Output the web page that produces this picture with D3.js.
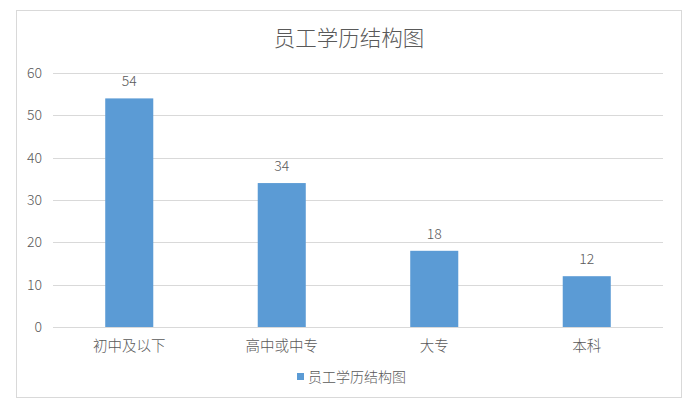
<!DOCTYPE html>
<html>
<head>
<meta charset="utf-8">
<script src="https://cdn.jsdelivr.net/npm/d3@7"></script>
<style>
  body { margin: 0; background: #fff; }
  text { font-family: "Noto Sans CJK SC", "Noto Sans", sans-serif; fill: #595959; font-weight: 300; }
</style>
</head>
<body>
<div id="chart"></div>
<script>
var title = '员工学历结构图';
var seriesName = '员工学历结构图';
var categories = ['初中及以下', '高中或中专', '大专', '本科'];
var values = [54, 34, 18, 12];
var yTicks = [0, 10, 20, 30, 40, 50, 60];

var width = 698, height = 408;
var margin = { left: 53, right: 35, top: 73, bottom: 81 };

var svg = d3.select('#chart')
    .append('svg')
    .attr('width', width)
    .attr('height', height);

// outer frame
svg.append('rect')
    .attr('x', 16.5)
    .attr('y', 10.5)
    .attr('width', 665)
    .attr('height', 387)
    .style('fill', '#fff')
    .style('stroke', '#d9d9d9');

var x = d3.scaleBand()
    .domain(categories)
    .range([margin.left, width - margin.right])
    .paddingInner(0.685)
    .paddingOuter(0.3425);

var y = d3.scaleLinear()
    .domain([0, 60])
    .range([height - margin.bottom, margin.top]);

// gridlines
svg.append('g')
    .selectAll('line')
    .data(yTicks)
    .enter()
    .append('line')
    .attr('x1', margin.left)
    .attr('x2', width - margin.right)
    .attr('y1', (d) => Math.round(y(d)) + 0.5)
    .attr('y2', (d) => Math.round(y(d)) + 0.5)
    .style('stroke', '#d9d9d9')
    .style('stroke-width', 1);

// y labels
svg.append('g')
    .selectAll('text')
    .data(yTicks)
    .enter()
    .append('text')
    .text((d) => d)
    .attr('x', 42)
    .attr('y', (d) => y(d))
    .attr('dy', '0.35em')
    .attr('text-anchor', 'end')
    .style('font-size', '14px');

// bars
svg.append('g')
    .selectAll('rect')
    .data(values)
    .enter()
    .append('rect')
    .attr('x', (d, i) => x(categories[i]))
    .attr('y', (d) => y(d))
    .attr('width', x.bandwidth())
    .attr('height', (d) => y(0) - y(d))
    .style('fill', '#5b9bd5');

// data labels
svg.append('g')
    .selectAll('text')
    .data(values)
    .enter()
    .append('text')
    .text((d) => d)
    .attr('x', (d, i) => x(categories[i]) + x.bandwidth() / 2)
    .attr('y', (d) => y(d) - 12)
    .attr('text-anchor', 'middle')
    .style('font-size', '14px');

// category labels
svg.append('g')
    .selectAll('text')
    .data(categories)
    .enter()
    .append('text')
    .text((d) => d)
    .attr('x', (d) => x(d) + x.bandwidth() / 2)
    .attr('y', y(0) + 24)
    .attr('text-anchor', 'middle')
    .style('font-size', '14.5px');

// title
svg.append('text')
    .text(title)
    .attr('x', 349)
    .attr('y', 46)
    .attr('text-anchor', 'middle')
    .style('font-size', '21.5px');

// legend
var legend = svg.append('g');
legend.append('rect')
    .attr('x', 297)
    .attr('y', 373)
    .attr('width', 7)
    .attr('height', 7)
    .style('fill', '#5b9bd5');
legend.append('text')
    .text(seriesName)
    .attr('x', 308)
    .attr('y', 382)
    .style('font-size', '14px');
</script>
</body>
</html>
